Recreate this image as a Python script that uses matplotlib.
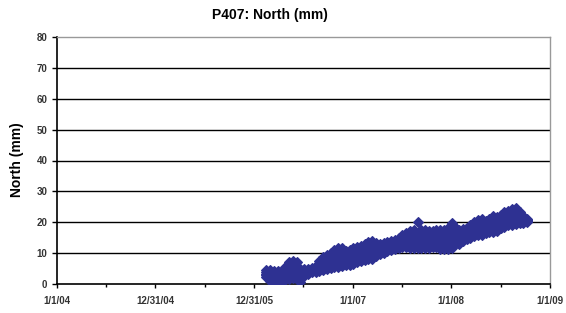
import matplotlib
matplotlib.use("Agg")
import matplotlib.pyplot as plt
import pandas as pd

plt.rcParams['font.family'] = ['Liberation Sans', 'DejaVu Sans']

# Biweekly sampling of the daily GPS cloud, read at several heights across the band
dates = pd.date_range("2006-02-15", periods=70, freq="14D")
north_hi = [4.4, 4.4, 4.3, 4.2, 3.9, 5.5, 7.0, 7.6, 7.0, 5.0,
            4.8, 4.9, 5.3, 5.8, 7.5, 8.8, 9.5, 10.0, 11.0, 11.8,
            11.5, 10.8, 10.9, 11.5, 11.9, 12.3, 13.0, 13.6, 13.9, 13.2,
            12.9, 13.3, 13.6, 13.9, 14.3, 15.0, 15.8, 16.5, 17.2, 17.4,
            20.2, 17.4, 17.4, 17.3, 17.3, 17.4, 17.6, 17.5, 18.0, 19.8,
            18.4, 17.6, 17.8, 18.2, 19.0, 20.0, 20.6, 20.9, 20.5, 21.0,
            21.9, 21.6, 22.3, 23.2, 23.8, 24.2, 24.5, 23.2, 22.0, 21.0]
north_uhi = [3.9, 3.7, 3.4, 3.1, 3.0, 4.2, 5.5, 6.3, 5.8, 4.0,
             4.2, 4.5, 4.9, 5.3, 6.5, 7.6, 8.2, 8.8, 9.5, 10.2,
             10.0, 9.6, 10.0, 10.4, 10.8, 11.2, 11.7, 12.2, 12.5, 12.2,
             12.2, 12.6, 13.0, 13.3, 13.7, 14.3, 14.9, 15.4, 15.9, 16.1,
             16.6, 16.3, 16.3, 16.3, 16.4, 16.4, 16.4, 16.2, 16.8, 17.4,
             17.2, 16.8, 17.1, 17.5, 18.1, 18.9, 19.4, 19.8, 19.7, 20.1,
             20.7, 20.7, 21.3, 22.0, 22.5, 22.9, 23.2, 22.3, 21.5, 20.8]
north_mid = [3.4, 2.8, 2.5, 2.2, 2.0, 3.0, 4.0, 5.0, 4.5, 3.0,
             3.5, 4.0, 4.5, 4.8, 5.5, 6.5, 7.0, 7.5, 8.0, 8.5,
             8.6, 8.5, 9.0, 9.3, 9.6, 10.0, 10.4, 10.8, 11.0, 11.3,
             11.6, 12.0, 12.4, 12.8, 13.2, 13.6, 14.0, 14.4, 14.6, 14.8,
             15.0, 15.2, 15.3, 15.4, 15.6, 15.5, 15.2, 15.0, 15.6, 16.0,
             16.0, 16.0, 16.4, 16.8, 17.2, 17.8, 18.3, 18.7, 19.0, 19.3,
             19.6, 19.8, 20.3, 20.8, 21.2, 21.6, 22.0, 21.5, 21.0, 20.6]
north_lmid = [2.9, 1.8, 1.2, 1.3, 1.5, 2.1, 2.8, 3.4, 3.0, 1.9,
              3.0, 3.6, 4.2, 4.4, 4.9, 5.5, 6.0, 6.4, 6.8, 7.0,
              7.2, 7.2, 7.6, 8.0, 8.3, 8.7, 9.1, 9.4, 9.6, 10.1,
              10.6, 11.1, 11.6, 11.9, 12.3, 12.7, 13.0, 13.2, 13.1, 13.1,
              13.2, 13.4, 13.4, 13.6, 13.8, 13.7, 13.3, 13.1, 13.5, 13.9,
              14.6, 14.5, 15.2, 15.6, 16.1, 16.6, 17.0, 17.3, 17.7, 18.0,
              18.3, 18.5, 19.1, 19.7, 20.1, 20.4, 20.7, 20.5, 20.4, 20.4]
north_lo = [2.4, 1.0, 0.0, 0.3, 1.0, 1.2, 1.5, 1.8, 1.5, 0.8,
            2.5, 3.2, 3.8, 4.0, 4.3, 4.6, 5.0, 5.3, 5.5, 5.6,
            5.8, 6.0, 6.2, 6.6, 7.0, 7.4, 7.8, 8.0, 8.1, 9.0,
            9.6, 10.2, 10.8, 11.0, 11.4, 11.8, 12.1, 12.0, 11.6, 11.5,
            11.5, 11.6, 11.6, 11.8, 12.0, 11.9, 11.4, 11.2, 11.4, 11.8,
            13.2, 13.0, 14.0, 14.5, 15.0, 15.4, 15.8, 16.0, 16.4, 16.8,
            17.0, 17.3, 18.0, 18.6, 19.0, 19.2, 19.4, 19.6, 19.8, 20.2]

tick_dates = pd.to_datetime(["2004-01-01", "2004-12-31", "2005-12-31",
                             "2007-01-01", "2008-01-01", "2009-01-01"])
tick_labels = ["1/1/04", "12/31/04", "12/31/05", "1/1/07", "1/1/08", "1/1/09"]
y_ticks = [0, 10, 20, 30, 40, 50, 60, 70, 80]

title = "P407: North (mm)"
ylabel = "North (mm)"

fig = plt.figure(figsize=(5.66, 3.13), dpi=100)
ax = fig.add_axes([57/566, 1-284/313, (550-57)/566, (284-37)/313])

color = "#2E3192"
for series in (north_lo, north_lmid, north_mid, north_uhi, north_hi):
    ax.plot(dates, series, linestyle="none", marker="D", markersize=5.4,
            color=color, markeredgecolor=color, markeredgewidth=0.8, zorder=3)

ax.set_xlim(pd.Timestamp("2004-01-01"), pd.Timestamp("2009-01-01"))
ax.set_ylim(0, 80)
ax.set_yticks(y_ticks)
ax.set_yticklabels([str(v) for v in y_ticks], fontsize=7, color="#333333",
                   fontweight="bold")
ax.set_xticks(tick_dates)
ax.set_xticklabels(tick_labels, fontsize=7, color="#333333", fontweight="bold")
minor = [tick_dates[i] + (tick_dates[i+1] - tick_dates[i]) / 2 for i in range(len(tick_dates)-1)]
ax.set_xticks(minor, minor=True)

for v in y_ticks[1:-1]:
    ax.axhline(v, color="black", linewidth=1.0, zorder=1)

ax.spines["left"].set_color("black")
ax.spines["bottom"].set_color("black")
ax.spines["left"].set_linewidth(1.2)
ax.spines["bottom"].set_linewidth(1.2)
ax.spines["top"].set_color("#999999")
ax.spines["right"].set_color("#999999")
ax.spines["top"].set_linewidth(1.0)
ax.spines["right"].set_linewidth(1.0)

ax.tick_params(axis="y", which="major", direction="out", length=3.5, width=1, pad=3.5)
ax.tick_params(axis="x", which="major", direction="out", length=3, width=1, pad=6)
ax.tick_params(axis="x", which="minor", direction="out", length=2.5, width=1)

fig.text(270/566, 1-15/313, title, ha="center", va="center",
         fontsize=10, fontweight="bold")
fig.text(17/566, 1-160/313, ylabel, ha="center", va="center",
         rotation=90, fontsize=10, fontweight="bold")

fig.savefig("out.png", dpi=100)
